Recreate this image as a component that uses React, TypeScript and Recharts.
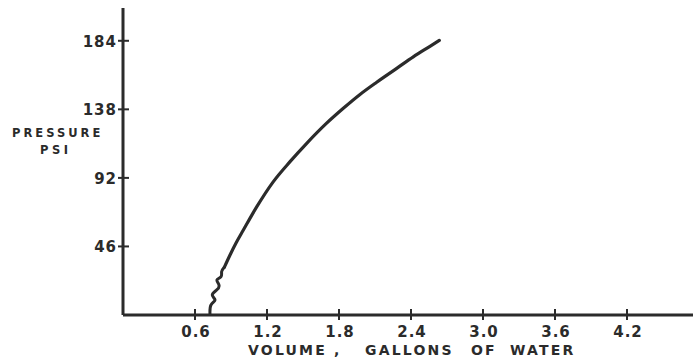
import React from "react";
import { LineChart, Line, XAxis, YAxis, Label } from "recharts";

const xTicks = [0.6, 1.2, 1.8, 2.4, 3.0, 3.6, 4.2];
const yTicks = [46, 92, 138, 184];

const wiggleVolume = [0.725, 0.733, 0.767, 0.744, 0.781, 0.8, 0.783, 0.817, 0.822, 0.844];
const wigglePressure = [0, 6.7, 10.1, 13.4, 16.8, 20.1, 23.5, 25.7, 29.1, 32];

const curveVolume = [0.844, 0.892, 0.942, 1.003, 1.114, 1.253, 1.392, 1.531, 1.697, 1.836, 1.975, 2.114, 2.281, 2.419, 2.558, 2.636];
const curvePressure = [32, 40.3, 48.3, 57.0, 72.5, 89.5, 102.9, 115.2, 128.7, 138.7, 148.0, 156.2, 165.5, 173.2, 180.3, 184.3];

const wiggleData = wiggleVolume.map((v, i) => ({ v, p: wigglePressure[i] }));
const curveData = curveVolume.map((v, i) => ({ v, p: curvePressure[i] }));

const INK = "#2b2b2b";
const FONT = "'DejaVu Sans', sans-serif";

const XTick = (props: any) => {
  const { x, y, payload } = props;
  return (
    <g>
      <line x1={x} x2={x} y1={y - 6} y2={y + 5} stroke={INK} strokeWidth={2} />
      <text
        x={x + 1}
        y={y + 22}
        textAnchor="middle"
        fill={INK}
        fontFamily={FONT}
        fontWeight="bold"
        fontSize={15}
        letterSpacing={1}
      >
        {Number(payload.value).toFixed(1)}
      </text>
    </g>
  );
};

const YTick = (props: any) => {
  const { x, y, payload } = props;
  return (
    <g>
      <line x1={x - 5} x2={x + 6} y1={y} y2={y} stroke={INK} strokeWidth={2} />
      <text
        x={x - 6}
        y={y + 6}
        textAnchor="end"
        fill={INK}
        fontFamily={FONT}
        fontWeight="bold"
        fontSize={15}
        letterSpacing={1}
      >
        {payload.value}
      </text>
    </g>
  );
};

const XTitle = () => (
  <text fill={INK} fontFamily={FONT} fontWeight="bold" fontSize={14} letterSpacing={2.2} y={355}>
    <tspan x={248}>VOLUME ,</tspan>
    <tspan x={365}>GALLONS</tspan>
    <tspan x={471}>OF</tspan>
    <tspan x={510}>WATER</tspan>
  </text>
);

const YTitle = () => (
  <g fill={INK} fontFamily={FONT} fontWeight="bold" fontSize={11.5}>
    <text x={12} y={137} letterSpacing={3}>PRESSURE</text>
    <text x={40} y={154} letterSpacing={3.5}>PSI</text>
  </g>
);

export default function App() {
  return (
    <div style={{ position: "absolute", left: 0, top: 0, width: 693, height: 362, background: "#fff" }}>
      <LineChart width={693} height={362} margin={{ top: 8, right: 0, bottom: 7, left: 63 }}>
        <XAxis
          type="number"
          dataKey="v"
          domain={[0, 4.75]}
          ticks={xTicks}
          allowDataOverflow
          height={40}
          tickSize={0}
          tickMargin={0}
          tickLine={false}
          axisLine={{ stroke: INK, strokeWidth: 3 }}
          tick={<XTick />}
          interval={0}
        >
          <Label content={() => <XTitle />} />
        </XAxis>
        <YAxis
          type="number"
          dataKey="p"
          domain={[0, 206]}
          ticks={yTicks}
          allowDataOverflow
          width={60}
          tickSize={0}
          tickMargin={0}
          tickLine={false}
          axisLine={{ stroke: INK, strokeWidth: 3 }}
          tick={<YTick />}
          interval={0}
        >
          <Label content={() => <YTitle />} />
        </YAxis>
        <Line
          data={wiggleData}
          dataKey="p"
          type="natural"
          stroke={INK}
          strokeWidth={3}
          strokeLinecap="round"
          strokeLinejoin="round"
          dot={false}
          activeDot={false}
          isAnimationActive={false}
        />
        <Line
          data={curveData}
          dataKey="p"
          type="monotone"
          stroke={INK}
          strokeWidth={3.2}
          strokeLinecap="round"
          strokeLinejoin="round"
          dot={false}
          activeDot={false}
          isAnimationActive={false}
        />
      </LineChart>
    </div>
  );
}
